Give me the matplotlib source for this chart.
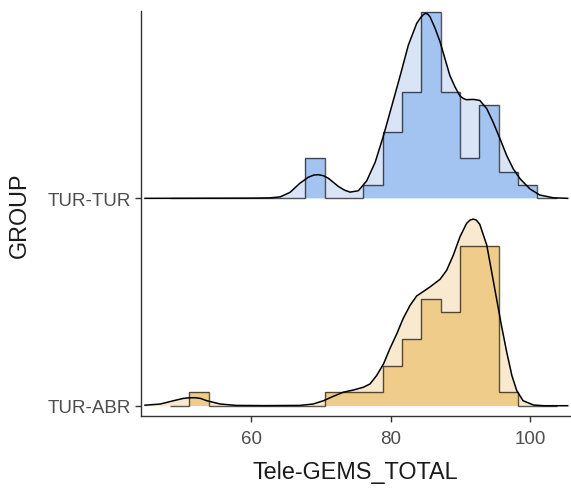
import numpy as np
import matplotlib
matplotlib.use('Agg')
import matplotlib.pyplot as plt

plt.rcParams['font.family'] = ['Liberation Sans', 'DejaVu Sans']

groups = ['TUR-ABR', 'TUR-TUR']

# histogram bins shared by both groups
bin_edges = [48.40, 51.17, 53.94, 56.71, 59.48, 62.25, 65.02, 67.79, 70.56, 73.33,
             76.10, 78.87, 81.64, 84.41, 87.18, 89.95, 92.72, 95.49, 98.26, 101.03, 103.80]
counts_abr = [0, 1, 0, 0, 0, 0, 0, 0, 1, 1, 1, 3, 5, 8, 7, 12, 12, 1, 0, 0]
counts_tur = [0, 0, 0, 0, 0, 0, 0, 3, 0, 0, 1, 5, 8, 14, 8, 3, 7, 2, 1, 0]

# density curves (relative heights)
dens_x_tur = [44.8, 60.0, 62.8, 64.2, 65.6, 67.0, 68.2, 69.0, 69.65, 70.4, 71.1, 72.5, 73.4,
              74.2, 75.4, 76.6, 77.8, 79.0, 80.2, 81.4, 82.55, 83.75, 84.3, 84.7, 85.0,
              85.3, 85.66, 86.4, 87.1, 87.8, 88.5, 89.25, 89.96, 90.5, 90.9, 91.4, 91.9,
              92.8, 93.8, 94.7, 95.7, 96.66, 97.6, 98.6, 100.0, 101.4, 103.3, 105.4]
dens_y_tur = [0, 0.2, 0.5, 1.5, 6, 15, 21, 23.2, 23.6, 22.5, 20, 12, 8.2,
              6.2, 7.6, 17.6, 36, 62.6, 92.6, 122.6, 152.6, 174.3, 180, 183, 184.3,
              183.8, 181, 169.3, 156, 139.3, 122.6, 111, 102, 99.3, 98.3, 98.5, 98.6,
              97.6, 89.3, 76, 59.3, 42.6, 29.3, 19.3, 9.3, 3.3, 0.6, 0]
dens_x_abr = [44.8, 47.0, 48.9, 50.3, 51.2, 52.0, 52.8, 53.65, 55.6, 57.9, 62.0, 67.0, 68.9,
              70.4, 71.8, 73.2, 74.7, 76.1, 77.06, 78.0, 79.0, 79.9, 80.9, 81.8, 82.8,
              83.75, 84.95, 85.66, 87.1, 88.05, 89.0, 89.96, 90.9, 91.4, 91.87, 92.3, 92.8,
              93.8, 94.5, 95.2, 95.9, 96.66, 97.4, 98.1, 99.0, 100.5, 102.0, 105.4]
dens_y_abr = [0.5, 1.7, 5, 7.3, 7.9, 8, 7.2, 5, 1.7, 0.3, 0.1, 0.3, 1.7,
              5, 9.4, 13.4, 15.7, 18.4, 21.7, 30, 41.7, 56.7, 71.7, 86.7, 100,
              109.4, 115, 118.4, 126, 135, 150, 168.4, 181.7, 185, 186, 185, 180.7,
              160, 133.4, 106.7, 80, 53.4, 30, 15, 5, 0.7, 0, 0]

scale = 0.9
hist_max = max(max(counts_abr), max(counts_tur))
dens_max = max(max(dens_y_abr), max(dens_y_tur))

series = [
    (0, counts_abr, dens_x_abr, dens_y_abr, '#f0cc8a', '#f9e9cf'),
    (1, counts_tur, dens_x_tur, dens_y_tur, '#a3c3f0', '#d9e5f7'),
]

fig = plt.figure(figsize=(5.71, 4.89), dpi=100)
ax = fig.add_axes([141 / 571, 1 - 417.3 / 489, 429 / 571, 405 / 489])

for off, counts, dx, dy, hist_col, dens_col in series:
    dy_s = np.array(dy) / dens_max * scale + off
    ax.fill_between(dx, off, dy_s, color=dens_col, lw=0, zorder=1 + off * 0.1)
    h = np.array(counts) / hist_max * scale + off
    ax.stairs(h, bin_edges, baseline=off, fill=True, color=hist_col, lw=0, zorder=2 + off * 0.1)
    ax.stairs(h, bin_edges, baseline=off, fill=False, color='black', alpha=0.65,
              lw=1.0, zorder=3 + off * 0.1)
    ax.plot(dx, dy_s, color='black', lw=1.1, zorder=4 + off * 0.1)

ax.set_xlim(44.23, 105.73)
ax.set_ylim(-0.051, 1.902)
ax.set_xticks([60, 80, 100])
ax.set_yticks([0, 1])
ax.set_yticklabels(groups)

for s in ['top', 'right']:
    ax.spines[s].set_visible(False)
for s in ['left', 'bottom']:
    ax.spines[s].set_color('#333333')
    ax.spines[s].set_linewidth(1.0)
ax.tick_params(colors='#333333', length=4, width=1.0, labelsize=13.5, labelcolor='#4d4d4d')
ax.tick_params(axis='x', pad=6)
ax.set_xlabel('Tele-GEMS_TOTAL', fontsize=16.8, color='#1a1a1a', labelpad=9)
ax.set_ylabel('GROUP', fontsize=16.8, color='#1a1a1a', labelpad=12)

fig.savefig('out.png', dpi=100)
